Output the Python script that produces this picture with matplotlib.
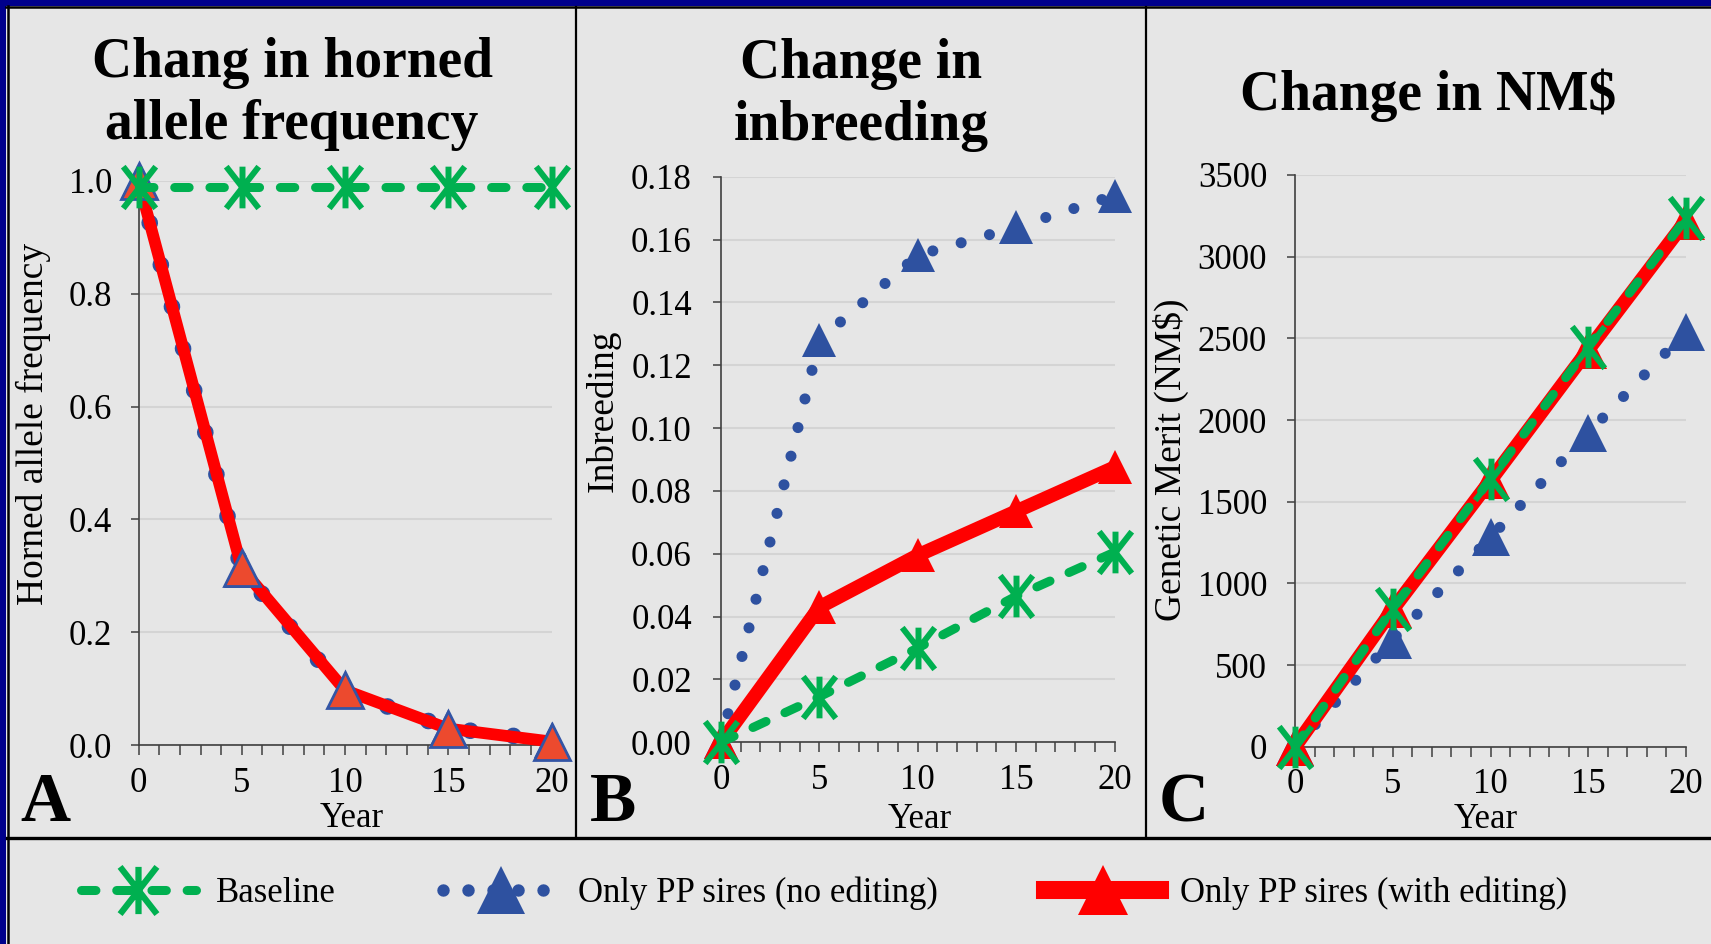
import matplotlib
matplotlib.use('Agg')
import matplotlib.pyplot as plt
from matplotlib.lines import Line2D
from matplotlib.patches import Rectangle
from matplotlib.path import Path
from matplotlib.ticker import MultipleLocator, FormatStrFormatter

plt.rcParams['font.family'] = ['Liberation Serif', 'DejaVu Serif']

# data
years = [0, 5, 10, 15, 20]

horned_baseline = [0.99, 0.99, 0.99, 0.99, 0.99]
horned_no_edit = [1.0, 0.31, 0.095, 0.030, 0.008]
horned_edit = [1.0, 0.313, 0.097, 0.029, 0.006]

inbr_baseline = [0.0, 0.0145, 0.030, 0.0465, 0.0605]
inbr_no_edit = [0.0, 0.128, 0.155, 0.164, 0.174]
inbr_edit = [0.0, 0.043, 0.0595, 0.0735, 0.0875]

nm_baseline = [0, 845, 1640, 2445, 3235]
nm_no_edit = [0, 655, 1282, 1921, 2540]
nm_edit = [0, 840, 1630, 2430, 3220]

titles = ['Chang in horned\nallele frequency', 'Change in\ninbreeding', 'Change in NM$']
ylabels = ['Horned allele frequency', 'Inbreeding', 'Genetic Merit (NM$)']
letters = ['A', 'B', 'C']
legend_labels = ['Baseline', 'Only PP sires (no editing)', 'Only PP sires (with editing)']

green = '#00b050'
blue = '#2e51a0'
red = '#ff0000'
bg = '#e6e6e6'
axcol = '#404040'

W, H = 1711, 944
fig = plt.figure(figsize=(W / 100, H / 100), dpi=100, facecolor=bg)

# asterisk marker: vertical bar plus an X
star = Path([(0, -1), (0, 1), (-0.78, -1), (0.78, 1), (-0.78, 1), (0.78, -1)],
            [Path.MOVETO, Path.LINETO] * 3)


def px_axes(left, right, bottom, top):
    return fig.add_axes([left / W, 1 - bottom / H, (right - left) / W, (bottom - top) / H])


axA = px_axes(138.6, 551.5, 745, 181)
axB = px_axes(721, 1114.5, 742.3, 176.7)
axC = px_axes(1295, 1686, 746.7, 175)
axes = [axA, axB, axC]


def style(ax, ymax, ystep, fmt, ypad):
    ax.set_facecolor('none')
    ax.set_xlim(0, 20)
    ax.set_ylim(0, ymax)
    ax.xaxis.set_major_locator(MultipleLocator(5))
    ax.xaxis.set_minor_locator(MultipleLocator(1))
    ax.yaxis.set_major_locator(MultipleLocator(ystep))
    ax.yaxis.set_major_formatter(FormatStrFormatter(fmt))
    for s in ['top', 'right']:
        ax.spines[s].set_visible(False)
    for s in ['left', 'bottom']:
        ax.spines[s].set_color(axcol)
        ax.spines[s].set_linewidth(1.2)
    ax.tick_params(axis='x', which='both', direction='out', length=7.5, width=1.1,
                   color=axcol, labelsize=25, pad=8)
    ax.tick_params(axis='y', direction='out', length=6, width=1.1,
                   color=axcol, labelsize=25, pad=ypad)
    ax.yaxis.grid(True, color='#d4d4d4', lw=1.5)
    ax.set_axisbelow(True)


style(axA, 1.0, 0.2, '%.1f', 13)
style(axB, 0.18, 0.02, '%.2f', 15)
style(axC, 3500, 500, '%d', 14)


def draw(ax, base, noedit, edit, dot_lw, dot_gap, tri, red_lw=10,
         edit_face=red, edit_edge=red, edit_mew=0):
    ax.plot(years, noedit, color=blue, lw=dot_lw, ls=(0, (0.001, dot_gap)),
            dash_capstyle='round', marker='^', ms=tri, mfc=blue, mec=blue, mew=0,
            clip_on=False, zorder=3)
    ax.plot(years, edit, color=red, lw=red_lw, solid_capstyle='round',
            marker='^', ms=tri, mfc=edit_face, mec=edit_edge, mew=edit_mew,
            clip_on=False, zorder=4)
    ax.plot(years, base, color=green, lw=6.5, ls=(0, (1.6, 2.3)), dash_capstyle='round',
            marker=star, ms=30, mec=green, mew=4.3, clip_on=False, zorder=5)


draw(axA, horned_baseline, horned_no_edit, horned_edit, 12, 2.6, 26, red_lw=8.5,
     edit_face='#ec4a2e', edit_edge='#3355a5', edit_mew=2)
draw(axB, inbr_baseline, inbr_no_edit, inbr_edit, 8, 2.65, 24)
draw(axC, nm_baseline, nm_no_edit, nm_edit, 8, 2.7, 27)

# axis labels
ylab_pos = [(-0.255, 0.569), (-0.2995, 0.586), (-0.317, 0.5015)]
xlab_pos = [(0.517, -0.1454), (0.505, -0.152), (0.4885, -0.142)]
for ax, lab, yp, xp in zip(axes, ylabels, ylab_pos, xlab_pos):
    ax.set_ylabel(lab, fontsize=27, va='center', ha='center')
    ax.yaxis.set_label_coords(*yp)
    ax.set_xlabel('Year', fontsize=25, va='baseline', ha='center')
    ax.xaxis.set_label_coords(*xp)

# titles (baseline of the last line) and panel letters
title_pos = [(292, 139), (861, 140), (1428, 110)]
for t, (x, y) in zip(titles, title_pos):
    fig.text(x / W, 1 - y / H, t, fontsize=40, fontweight='bold', ha='center',
             va='baseline', linespacing=1.26)
letter_x = [20, 590, 1159]
for l, x in zip(letters, letter_x):
    fig.text(x / W, 1 - 821 / H, l, fontsize=50, fontweight='bold', ha='left', va='baseline')

# slide frame
fig.add_artist(Rectangle((0, 1 - 6 / H), 1, 6 / H, transform=fig.transFigure,
                         color='#00008c', lw=0))
fig.add_artist(Rectangle((0, 0), 6 / W, 1, transform=fig.transFigure,
                         color='#00008c', lw=0))
fig.add_artist(Line2D([6 / W, 1], [1 - 7 / H] * 2, transform=fig.transFigure,
                      color='black', lw=1.8))
fig.add_artist(Line2D([7.5 / W] * 2, [0, 1 - 6 / H], transform=fig.transFigure,
                      color='black', lw=1.8))
for x in [576, 1146]:
    fig.add_artist(Line2D([x / W] * 2, [1 - 838 / H, 1 - 7 / H], transform=fig.transFigure,
                          color='black', lw=1.6))
fig.add_artist(Line2D([7 / W, 1], [1 - 838 / H] * 2, transform=fig.transFigure,
                      color='black', lw=2.4))

# legend
handles = [
    Line2D([], [], color=green, lw=6.5, ls=(0, (1.6, 2.3)), dash_capstyle='round',
           marker=star, ms=34, mec=green, mew=4.5),
    Line2D([], [], color=blue, lw=9, ls=(0, (0.001, 2.0)), dash_capstyle='round',
           marker='^', ms=34, mfc=blue, mec=blue, mew=0),
    Line2D([], [], color=red, lw=13, marker='^', ms=36, mfc=red, mec=red, mew=0),
]
fig.legend(handles, legend_labels, loc='center left', bbox_to_anchor=(81 / W, 1 - 893 / H),
           ncol=3, frameon=False, fontsize=25, handlelength=3.3, handletextpad=0.58,
           columnspacing=3.1, borderpad=0, borderaxespad=0, numpoints=1)

fig.savefig('out.png', dpi=100, facecolor=bg)
